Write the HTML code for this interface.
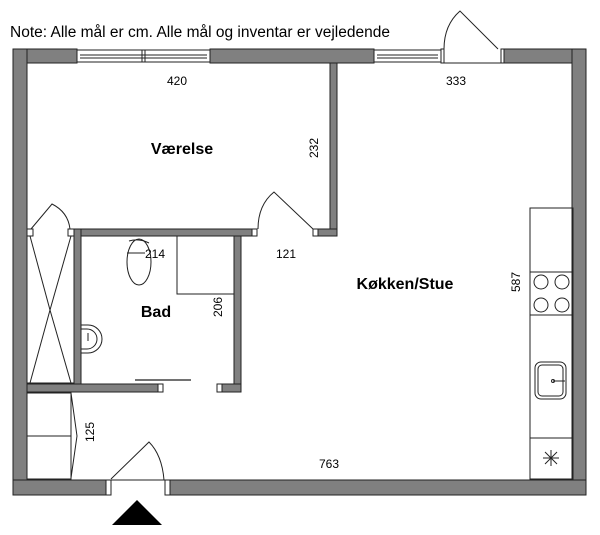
<!DOCTYPE html>
<html><head><meta charset="utf-8"><style>
html,body{margin:0;padding:0;background:#fff;}
svg{display:block;font-family:"Liberation Sans","DejaVu Sans",sans-serif;}
</style></head><body>
<svg width="600" height="535" viewBox="0 0 600 535" xmlns="http://www.w3.org/2000/svg">
<rect width="600" height="535" fill="#fff"/>
<text x="10" y="37" font-size="15.5" fill="#000">Note: Alle mål er cm. Alle mål og inventar er vejledende</text>
<g fill="#808080" stroke="#222" stroke-width="1">
<rect x="13" y="49" width="64" height="14"/>
<rect x="210" y="49" width="164" height="14"/>
<rect x="504" y="49" width="82" height="14"/>
<rect x="13" y="49" width="14" height="446"/>
<rect x="572" y="49" width="14" height="446"/>
<rect x="13" y="480" width="93" height="15"/>
<rect x="170" y="480" width="416" height="15"/>
<rect x="330" y="63" width="7" height="173"/>
<rect x="318" y="229" width="19" height="7"/>
<rect x="74" y="229" width="178" height="7"/>
<rect x="74" y="229" width="7" height="163"/>
<rect x="27" y="384" width="131" height="8"/>
<rect x="234" y="236" width="7" height="156"/>
<rect x="222" y="384" width="19" height="8"/>
</g>
<g fill="#fff" stroke="#222" stroke-width="1">
<rect x="77" y="50" width="133" height="12"/>
<line x1="80" y1="55" x2="207" y2="55"/><line x1="80" y1="58" x2="207" y2="58"/>
<line x1="142" y1="50" x2="142" y2="62"/><line x1="145" y1="50" x2="145" y2="62"/>
<rect x="374" y="50" width="67" height="12"/>
<line x1="377" y1="55" x2="438" y2="55"/><line x1="377" y1="58" x2="438" y2="58"/>
<rect x="441" y="49" width="3" height="14"/><rect x="501" y="49" width="3" height="14"/>
<line x1="444" y1="63" x2="501" y2="63"/>
<path d="M498 49 L460 11 Q444 25 444 49" fill="none"/>
<rect x="313" y="229" width="5" height="7"/>
<rect x="252" y="229" width="5" height="7"/>
<rect x="27" y="229" width="6" height="7"/>
<rect x="68" y="229" width="6" height="7"/>
<rect x="158" y="384" width="5" height="8"/>
<rect x="217" y="384" width="5" height="8"/>
<rect x="106" y="480" width="5" height="15"/><rect x="165" y="480" width="5" height="15"/>
<line x1="111" y1="480" x2="165" y2="480"/>
</g>
<g fill="none" stroke="#222" stroke-width="1">
<path d="M313 229 L274 192 Q258 205 258 229"/>
<path d="M31 229 L52 204 Q68 212 70 229"/>
<line x1="27" y1="383" x2="74" y2="383"/>
<line x1="30" y1="236" x2="50" y2="310"/><line x1="50" y1="310" x2="30" y2="383"/>
<line x1="71" y1="236" x2="50" y2="310"/><line x1="50" y1="310" x2="71" y2="383"/>
<rect x="177" y="236" width="57" height="58"/>
<ellipse cx="139" cy="262" rx="12" ry="23"/>
<path d="M129 241 Q139 238 149 243"/>
<line x1="127" y1="253" x2="145" y2="253"/>
<path d="M81 325 L88 325 A14 14 0 0 1 88 353 L81 353"/>
<path d="M81 329 L87 329 A10 10 0 0 1 87 349 L81 349"/>
<line x1="88" y1="333" x2="88" y2="341"/>
<line x1="135" y1="380" x2="191" y2="380" stroke="#444" stroke-width="1.5"/>
<rect x="27" y="393" width="44" height="86"/>
<line x1="27" y1="436" x2="71" y2="436"/>
<path d="M71 393 L77 436 L71 478"/>
<path d="M111 479 L149 442 Q162 455 164 480"/>
<rect x="530" y="208" width="43" height="271"/>
<line x1="530" y1="272" x2="573" y2="272"/>
<line x1="530" y1="315" x2="573" y2="315"/>
<line x1="530" y1="438" x2="573" y2="438"/>
<circle cx="541" cy="282" r="7"/><circle cx="562" cy="282" r="7"/>
<circle cx="541" cy="305" r="7"/><circle cx="562" cy="305" r="7"/>
<rect x="535" y="362" width="31" height="37" rx="6"/>
<rect x="538" y="365" width="25" height="31" rx="4"/>
<line x1="553" y1="381" x2="565" y2="381"/>
<circle cx="553" cy="381" r="1.5"/>
<line x1="543" y1="458" x2="559" y2="458"/>
<line x1="551" y1="450" x2="551" y2="466"/>
<line x1="545" y1="452" x2="557" y2="464"/>
<line x1="557" y1="452" x2="545" y2="464"/>
</g>
<polygon points="112,525 162,525 137,500" fill="#000"/>
<g font-size="12" fill="#000" text-anchor="middle">
<text x="177" y="85">420</text>
<text x="456" y="85">333</text>
<text x="286" y="258">121</text>
<text x="155" y="258">214</text>
<text x="329" y="468">763</text>
<text transform="translate(318,148) rotate(-90)">232</text>
<text transform="translate(222,307) rotate(-90)">206</text>
<text transform="translate(520,282) rotate(-90)">587</text>
<text transform="translate(94,432) rotate(-90)">125</text>
</g>
<g font-size="16" font-weight="bold" fill="#000" text-anchor="middle">
<text x="182" y="154">Værelse</text>
<text x="156" y="317">Bad</text>
<text x="405" y="289">Køkken/Stue</text>
</g>
</svg>
</body></html>
